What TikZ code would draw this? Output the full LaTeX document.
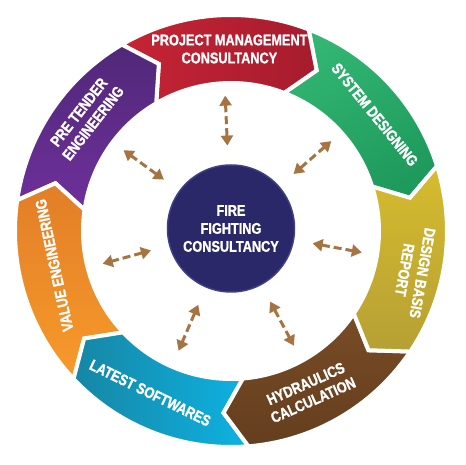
\documentclass[tikz,border=0pt]{standalone}
\usepackage{fontspec}
\setmainfont[FakeStretch=0.82, BoldFeatures={FakeBold=1.2}]{Liberation Sans}
\usetikzlibrary{arrows.meta,calc}

\definecolor{pmcred}{RGB}{198,36,52}
\definecolor{pmcreddark}{RGB}{166,28,46}
\definecolor{sysgreen}{RGB}{50,182,114}
\definecolor{sysgreendark}{RGB}{30,154,92}
\definecolor{dbryellow}{RGB}{214,188,46}
\definecolor{dbryellowdark}{RGB}{182,160,52}
\definecolor{hydbrown}{RGB}{120,76,38}
\definecolor{hydbrowndark}{RGB}{100,62,30}
\definecolor{lsteal}{RGB}{22,134,164}
\definecolor{lscyan}{RGB}{14,178,226}
\definecolor{veorange}{RGB}{247,154,42}
\definecolor{veorangedark}{RGB}{226,126,40}
\definecolor{ptpurple}{RGB}{110,48,154}
\definecolor{ptpurpledark}{RGB}{80,40,120}
\definecolor{hubnavy}{RGB}{42,40,104}
\definecolor{hubrim}{RGB}{64,62,132}
\definecolor{linkbrown}{RGB}{166,116,66}

\begin{document}
\begin{tikzpicture}[x=1pt, y=1pt,
  seg/.style={draw=white, line width=4pt, line join=miter},
  lbl/.style={text=white, font=\fontsize{15.5}{18}\selectfont\bfseries, align=center, inner sep=0pt},
  link/.style={draw=linkbrown, line width=3pt, dash pattern=on 8pt off 4pt,
    {Triangle[length=10pt,width=12pt]}-{Triangle[length=10pt,width=12pt]}}
  ]
\def\ro{216}   % outer radius of the ring
\def\ri{148}   % inner radius of the ring
\def\rm{182}   % radius of the chevron points
\def\tip{7}    % how far a point runs ahead
\def\w{51.43}  % one of seven parts
\fill[white] (-231,-234) rectangle (235,231);
\useasboundingbox (-231,-234) rectangle (235,231);
% ring of chevrons, clockwise
\foreach \a/\ct/\cb/\sa in {17.5/sysgreen/sysgreendark/30, 68.93/pmcred/pmcreddark/90,
    120.36/ptpurpledark/ptpurple/0, 171.79/veorangedark/veorange/0,
    223.21/lsteal/lscyan/90, 274.64/hydbrown/hydbrowndark/0,
    326.07/dbryellow/dbryellowdark/0}
  \path[seg, top color=\ct, bottom color=\cb, shading angle=\sa]
    (\a+\w:\ro) arc[start angle=\a+\w, end angle=\a, radius=\ro]
    -- (\a-\tip:\rm) -- (\a:\ri)
    arc[start angle=\a, end angle=\a+\w, radius=\ri]
    -- (\a+\w-\tip:\rm) -- cycle;
\node[lbl] (pmc) at (90.5:182) {PROJECT MANAGEMENT\\CONSULTANCY};
\node[lbl, rotate=-51] (sysdes) at (39:185) {SYSTEM DESIGNING};
\node[lbl, rotate=-100] (dbr) at (-12.5:187) {DESIGN BASIS\\REPORT};
\node[lbl, rotate=24] (hydcalc) at (-64:179) {HYDRAULICS\\CALCULATION};
\node[lbl, rotate=-26] (latest) at (-116.5:181) {LATEST SOFTWARES};
\node[lbl, rotate=102] (valeng) at (191:180) {VALUE ENGINEERING};
\node[lbl, rotate=52] (pretender) at (142:184) {PRE TENDER\\ENGINEERING};
% hub
\node[lbl, circle, fill=hubnavy, draw=hubrim, line width=1.5pt, minimum size=127pt] (hub) at (0,2.5)
  {FIRE\\FIGHTING\\CONSULTANCY};
\foreach \k in {0,...,6} {
  \coordinate (in\k) at ($(hub.center)+(92.5-\k*51.43:83)$);
  \coordinate (out\k) at ($(hub.center)+(92.5-\k*51.43:133)$);
  \draw[link] (in\k) -- (out\k);
}
\end{tikzpicture}
\end{document}
